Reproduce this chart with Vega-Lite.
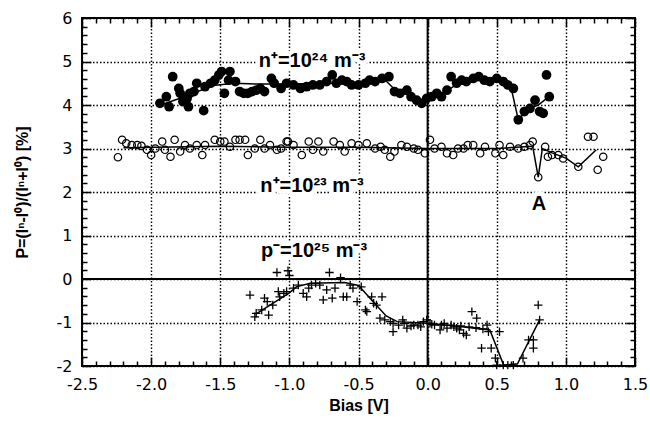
{
  "$schema": "https://vega.github.io/schema/vega-lite/v6.json",
  "width": 553,
  "height": 348,
  "autosize": {"type": "none"},
  "padding": {"left": 82, "top": 18, "right": 15, "bottom": 64},
  "background": "white",
  "config": {
    "view": {"stroke": "black", "strokeWidth": 2},
    "axis": {"tickColor": "black", "tickWidth": 1.5, "domain": false, "labelColor": "black", "titleColor": "black"}
  },
  "datasets": {
    "filled": [
      {"x":-1.936,"y":4.04},{"x":-1.89,"y":4.19},{"x":-1.87,"y":3.96},{"x":-1.844,"y":4.65},{"x":-1.80,"y":4.38},{"x":-1.79,"y":4.27},{"x":-1.77,"y":4.08},{"x":-1.74,"y":4.15},{"x":-1.73,"y":3.96},{"x":-1.72,"y":4.27},{"x":-1.69,"y":4.31},{"x":-1.67,"y":4.50},{"x":-1.62,"y":3.87},{"x":-1.61,"y":4.42},{"x":-1.57,"y":4.50},{"x":-1.54,"y":4.57},{"x":-1.51,"y":4.69},{"x":-1.49,"y":4.77},{"x":-1.47,"y":4.27},{"x":-1.44,"y":4.57},{"x":-1.43,"y":4.77},{"x":-1.39,"y":4.54},{"x":-1.36,"y":4.31},{"x":-1.33,"y":4.27},{"x":-1.30,"y":4.27},{"x":-1.27,"y":4.31},{"x":-1.24,"y":4.34},{"x":-1.21,"y":4.38},{"x":-1.18,"y":4.31},{"x":-1.13,"y":4.61},{"x":-1.11,"y":4.50},{"x":-1.06,"y":4.38},{"x":-1.02,"y":4.50},{"x":-0.97,"y":4.46},{"x":-0.92,"y":4.38},{"x":-0.875,"y":4.42},{"x":-0.83,"y":4.46},{"x":-0.78,"y":4.46},{"x":-0.73,"y":4.54},{"x":-0.69,"y":4.69},{"x":-0.66,"y":4.50},{"x":-0.62,"y":4.57},{"x":-0.585,"y":4.54},{"x":-0.55,"y":4.46},{"x":-0.50,"y":4.46},{"x":-0.45,"y":4.50},{"x":-0.42,"y":4.57},{"x":-0.38,"y":4.54},{"x":-0.33,"y":4.61},{"x":-0.28,"y":4.65},{"x":-0.24,"y":4.31},{"x":-0.20,"y":4.27},{"x":-0.15,"y":4.34},{"x":-0.12,"y":4.19},{"x":-0.08,"y":4.11},{"x":-0.043,"y":4.04},{"x":-0.007,"y":4.15},{"x":0.03,"y":4.19},{"x":0.066,"y":4.27},{"x":0.10,"y":4.19},{"x":0.14,"y":4.34},{"x":0.17,"y":4.65},{"x":0.21,"y":4.50},{"x":0.246,"y":4.57},{"x":0.28,"y":4.54},{"x":0.33,"y":4.61},{"x":0.37,"y":4.65},{"x":0.41,"y":4.57},{"x":0.45,"y":4.54},{"x":0.50,"y":4.61},{"x":0.547,"y":4.54},{"x":0.58,"y":4.46},{"x":0.62,"y":4.38},{"x":0.656,"y":3.66},{"x":0.70,"y":3.85},{"x":0.74,"y":3.92},{"x":0.777,"y":4.11},{"x":0.81,"y":3.85},{"x":0.836,"y":3.81},{"x":0.86,"y":4.69},{"x":0.88,"y":4.19}
    ],
    "open": [
      {"x":-2.24,"y":2.80},{"x":-2.21,"y":3.20},{"x":-2.18,"y":3.12},{"x":-2.14,"y":3.08},{"x":-2.10,"y":3.08},{"x":-2.07,"y":3.06},{"x":-2.03,"y":2.97},{"x":-2.00,"y":2.85},{"x":-1.97,"y":3.00},{"x":-1.92,"y":3.16},{"x":-1.90,"y":2.97},{"x":-1.86,"y":2.81},{"x":-1.83,"y":3.20},{"x":-1.79,"y":2.93},{"x":-1.755,"y":3.08},{"x":-1.72,"y":3.00},{"x":-1.67,"y":3.08},{"x":-1.63,"y":2.85},{"x":-1.61,"y":3.08},{"x":-1.54,"y":3.20},{"x":-1.50,"y":3.16},{"x":-1.47,"y":3.16},{"x":-1.43,"y":3.04},{"x":-1.39,"y":3.20},{"x":-1.36,"y":3.20},{"x":-1.32,"y":3.20},{"x":-1.30,"y":2.85},{"x":-1.25,"y":3.00},{"x":-1.21,"y":3.20},{"x":-1.18,"y":3.00},{"x":-1.14,"y":3.08},{"x":-1.09,"y":2.97},{"x":-1.06,"y":3.00},{"x":-1.02,"y":3.16},{"x":-1.01,"y":3.16},{"x":-0.97,"y":3.08},{"x":-0.91,"y":2.85},{"x":-0.86,"y":3.16},{"x":-0.83,"y":2.97},{"x":-0.79,"y":3.16},{"x":-0.755,"y":2.93},{"x":-0.68,"y":3.16},{"x":-0.635,"y":3.08},{"x":-0.60,"y":2.93},{"x":-0.55,"y":3.12},{"x":-0.50,"y":3.08},{"x":-0.44,"y":3.12},{"x":-0.38,"y":3.00},{"x":-0.34,"y":3.04},{"x":-0.31,"y":2.97},{"x":-0.27,"y":2.81},{"x":-0.24,"y":2.93},{"x":-0.19,"y":3.08},{"x":-0.15,"y":3.04},{"x":-0.10,"y":3.00},{"x":-0.07,"y":2.97},{"x":-0.02,"y":2.89},{"x":0.017,"y":3.20},{"x":0.05,"y":3.00},{"x":0.10,"y":3.04},{"x":0.14,"y":2.89},{"x":0.185,"y":2.85},{"x":0.22,"y":3.00},{"x":0.26,"y":3.00},{"x":0.29,"y":3.08},{"x":0.33,"y":3.08},{"x":0.38,"y":2.89},{"x":0.415,"y":3.04},{"x":0.49,"y":2.89},{"x":0.52,"y":3.08},{"x":0.547,"y":2.85},{"x":0.596,"y":3.04},{"x":0.656,"y":3.00},{"x":0.70,"y":3.04},{"x":0.74,"y":3.08},{"x":0.76,"y":3.16},{"x":0.80,"y":2.34},{"x":0.85,"y":3.04},{"x":0.87,"y":2.81},{"x":0.90,"y":2.85},{"x":0.945,"y":2.85},{"x":0.98,"y":2.77},{"x":1.09,"y":2.58},{"x":1.16,"y":3.27},{"x":1.20,"y":3.27},{"x":1.23,"y":2.51},{"x":1.27,"y":2.81}
    ],
    "cross": [
      {"x":-1.285,"y":-0.37},{"x":-1.25,"y":-0.87},{"x":-1.24,"y":-0.79},{"x":-1.20,"y":-0.71},{"x":-1.18,"y":-0.44},{"x":-1.16,"y":-0.52},{"x":-1.15,"y":-0.83},{"x":-1.12,"y":-0.60},{"x":-1.09,"y":0.15},{"x":-1.08,"y":-0.29},{"x":-1.07,"y":-0.41},{"x":-1.04,"y":-0.33},{"x":-1.02,"y":-0.29},{"x":-1.01,"y":0.19},{"x":-1.00,"y":0.08},{"x":-0.97,"y":-0.21},{"x":-0.935,"y":-0.14},{"x":-0.90,"y":-0.33},{"x":-0.875,"y":-0.41},{"x":-0.86,"y":-0.21},{"x":-0.84,"y":-0.14},{"x":-0.81,"y":-0.10},{"x":-0.78,"y":-0.14},{"x":-0.755,"y":-0.48},{"x":-0.73,"y":-0.25},{"x":-0.71,"y":0.15},{"x":-0.69,"y":-0.44},{"x":-0.67,"y":-0.21},{"x":-0.63,"y":0.03},{"x":-0.61,"y":-0.41},{"x":-0.585,"y":-0.41},{"x":-0.56,"y":-0.14},{"x":-0.54,"y":-0.21},{"x":-0.51,"y":-0.52},{"x":-0.48,"y":-0.18},{"x":-0.45,"y":-0.71},{"x":-0.44,"y":-0.75},{"x":-0.405,"y":-0.41},{"x":-0.39,"y":-0.56},{"x":-0.37,"y":-0.60},{"x":-0.345,"y":-0.90},{"x":-0.33,"y":-0.41},{"x":-0.31,"y":-0.94},{"x":-0.27,"y":-0.98},{"x":-0.25,"y":-1.21},{"x":-0.25,"y":-1.02},{"x":-0.21,"y":-1.06},{"x":-0.18,"y":-0.94},{"x":-0.17,"y":-1.02},{"x":-0.15,"y":-1.13},{"x":-0.12,"y":-1.08},{"x":-0.10,"y":-1.06},{"x":-0.07,"y":-1.06},{"x":-0.05,"y":-1.10},{"x":-0.03,"y":-0.98},{"x":-0.007,"y":-0.94},{"x":0.017,"y":-1.02},{"x":0.03,"y":-1.04},{"x":0.05,"y":-1.06},{"x":0.09,"y":-1.17},{"x":0.10,"y":-1.06},{"x":0.12,"y":-1.02},{"x":0.14,"y":-1.13},{"x":0.17,"y":-1.06},{"x":0.19,"y":-1.10},{"x":0.21,"y":-1.13},{"x":0.23,"y":-1.17},{"x":0.24,"y":-1.08},{"x":0.26,"y":-1.25},{"x":0.28,"y":-1.29},{"x":0.30,"y":-1.10},{"x":0.32,"y":-0.75},{"x":0.35,"y":-1.12},{"x":0.355,"y":-0.90},{"x":0.39,"y":-1.59},{"x":0.40,"y":-1.15},{"x":0.43,"y":-1.06},{"x":0.44,"y":-1.21},{"x":0.46,"y":-1.59},{"x":0.49,"y":-1.82},{"x":0.50,"y":-1.98},{"x":0.52,"y":-1.21},{"x":0.547,"y":-1.98},{"x":0.58,"y":-1.98},{"x":0.62,"y":-1.98},{"x":0.69,"y":-1.82},{"x":0.73,"y":-1.40},{"x":0.765,"y":-1.59},{"x":0.765,"y":-1.40},{"x":0.80,"y":-0.60},{"x":0.81,"y":-0.94}
    ],
    "fits": [
      {"s":"f","x":-1.93,"y":4.0},{"s":"f","x":-1.75,"y":4.2},{"s":"f","x":-1.55,"y":4.45},{"s":"f","x":-1.4,"y":4.5},{"s":"f","x":-1.2,"y":4.48},{"s":"f","x":-1.0,"y":4.48},{"s":"f","x":-0.75,"y":4.5},{"s":"f","x":-0.5,"y":4.5},{"s":"f","x":-0.3,"y":4.55},{"s":"f","x":-0.22,"y":4.3},{"s":"f","x":-0.1,"y":4.2},{"s":"f","x":-0.02,"y":4.08},{"s":"f","x":0.1,"y":4.25},{"s":"f","x":0.2,"y":4.45},{"s":"f","x":0.35,"y":4.6},{"s":"f","x":0.5,"y":4.55},{"s":"f","x":0.6,"y":4.45},{"s":"f","x":0.656,"y":3.66},{"s":"f","x":0.72,"y":3.9},{"s":"f","x":0.8,"y":4.0},{"s":"f","x":0.88,"y":4.2},
      {"s":"o","x":-2.2,"y":3.02},{"s":"o","x":-1.5,"y":3.05},{"s":"o","x":-1.0,"y":3.03},{"s":"o","x":-0.5,"y":3.03},{"s":"o","x":0.0,"y":3.0},{"s":"o","x":0.5,"y":3.0},{"s":"o","x":0.76,"y":3.05},{"s":"o","x":0.80,"y":2.34},{"s":"o","x":0.83,"y":3.0},{"s":"o","x":0.9,"y":2.9},{"s":"o","x":1.0,"y":2.78},{"s":"o","x":1.09,"y":2.58},{"s":"o","x":1.22,"y":2.97},
      {"s":"c","x":-1.24,"y":-0.8},{"s":"c","x":-1.1,"y":-0.52},{"s":"c","x":-1.0,"y":-0.32},{"s":"c","x":-0.95,"y":-0.18},{"s":"c","x":-0.85,"y":-0.1},{"s":"c","x":-0.6,"y":-0.08},{"s":"c","x":-0.5,"y":-0.15},{"s":"c","x":-0.4,"y":-0.5},{"s":"c","x":-0.3,"y":-0.85},{"s":"c","x":-0.22,"y":-0.98},{"s":"c","x":0.0,"y":-1.02},{"s":"c","x":0.2,"y":-1.08},{"s":"c","x":0.45,"y":-1.17},{"s":"c","x":0.55,"y":-1.98},{"s":"c","x":0.65,"y":-1.95},{"s":"c","x":0.81,"y":-0.94}
    ],
    "zero": [{"v": 0}],
    "labels": [
      {"x":-0.836,"y":4.88,"t":"n⁺=10²⁴ m⁻³"},
      {"x":-0.836,"y":2.0,"t":"n⁺=10²³ m⁻³"},
      {"x":-0.822,"y":0.5,"t":"p⁻=10²⁵ m⁻³"},
      {"x":0.806,"y":1.59,"t":"A"}
    ]
  },
  "layer": [
    {
      "data": {"name": "labels"},
      "mark": {"type": "text", "font": "Liberation Sans", "fontWeight": "bold", "fontSize": 20, "color": "white", "stroke": "white", "strokeWidth": 9, "strokeJoin": "round", "align": "center", "baseline": "alphabetic"},
      "encoding": {
        "x": {"field": "x", "type": "quantitative", "scale": {"domain": [-2.5, 1.5], "nice": false}, "axis": null},
        "y": {"field": "y", "type": "quantitative", "scale": {"domain": [-2, 6], "nice": false}, "axis": null},
        "text": {"field": "t"}
      }
    },
    {
      "data": {"name": "zero"},
      "mark": {"type": "rule", "color": "black", "strokeWidth": 2},
      "encoding": {"x": {"field": "v", "type": "quantitative", "scale": {"domain": [-2.5, 1.5], "nice": false}, "axis": null}}
    },
    {
      "data": {"name": "zero"},
      "mark": {"type": "rule", "color": "black", "strokeWidth": 2},
      "encoding": {"y": {"field": "v", "type": "quantitative", "scale": {"domain": [-2, 6], "nice": false}, "axis": null}}
    },
    {
      "data": {"name": "fits"},
      "mark": {"type": "line", "color": "black", "strokeWidth": 1.5},
      "encoding": {
        "detail": {"field": "s"},
        "x": {"field": "x", "type": "quantitative", "scale": {"domain": [-2.5, 1.5], "nice": false},
          "axis": {"orient": "top", "labels": false, "grid": false, "title": null, "tickSize": -5,
            "values": [-2.4,-2.3,-2.2,-2.1,-1.9,-1.8,-1.7,-1.6,-1.4,-1.3,-1.2,-1.1,-0.9,-0.8,-0.7,-0.6,-0.4,-0.3,-0.2,-0.1,0.1,0.2,0.3,0.4,0.6,0.7,0.8,0.9,1.1,1.2,1.3,1.4]}},
        "y": {"field": "y", "type": "quantitative", "scale": {"domain": [-2, 6], "nice": false},
          "axis": {"orient": "right", "labels": false, "grid": false, "title": null, "tickSize": -5,
            "values": [-1.8,-1.6,-1.4,-1.2,-0.8,-0.6,-0.4,-0.2,0.2,0.4,0.6,0.8,1.2,1.4,1.6,1.8,2.2,2.4,2.6,2.8,3.2,3.4,3.6,3.8,4.2,4.4,4.6,4.8,5.2,5.4,5.6,5.8]}}
      }
    },
    {
      "data": {"name": "open"},
      "mark": {"type": "point", "shape": "circle", "filled": false, "stroke": "black", "strokeWidth": 1.2, "size": 55, "opacity": 1},
      "encoding": {
        "x": {"field": "x", "type": "quantitative", "scale": {"domain": [-2.5, 1.5], "nice": false},
          "axis": {"orient": "bottom", "title": "Bias [V]", "titleFont": "Liberation Sans", "titleFontWeight": "bold", "titleFontSize": 16, "titlePadding": 5,
            "labelFont": "DejaVu Sans", "labelFontSize": 16, "labelPadding": 19, "labelFlush": false, "labelOverlap": false,
            "values": [-2.5,-2.0,-1.5,-1.0,-0.5,0,0.5,1.0,1.5], "format": ".1f",
            "labelExpr": "replace(datum.label, '−', '-')", "tickSize": -9,
            "grid": true, "gridColor": "black", "gridDash": [1.5, 2], "gridWidth": 1.4}},
        "y": {"field": "y", "type": "quantitative", "scale": {"domain": [-2, 6], "nice": false},
          "axis": {"orient": "left", "title": "P=(Iⁿ-I⁰)/(Iⁿ+I⁰) [%]", "titleFont": "Liberation Sans", "titleFontWeight": "bold", "titleFontSize": 16, "titlePadding": 26,
            "labelFont": "DejaVu Sans", "labelFontSize": 16, "labelPadding": 19, "labelFlush": false, "labelOverlap": false,
            "values": [-2,-1,0,1,2,3,4,5,6], "format": "d",
            "labelExpr": "replace(datum.label, '−', '-')", "tickSize": -9,
            "grid": true, "gridColor": "black", "gridDash": [1.5, 2], "gridWidth": 1.4}}
      }
    },
    {
      "data": {"name": "filled"},
      "mark": {"type": "point", "shape": "circle", "filled": true, "color": "black", "size": 95, "opacity": 1},
      "encoding": {
        "x": {"field": "x", "type": "quantitative", "scale": {"domain": [-2.5, 1.5], "nice": false},
          "axis": {"orient": "bottom", "labels": false, "grid": false, "title": null, "tickSize": -5,
            "values": [-2.4,-2.3,-2.2,-2.1,-1.9,-1.8,-1.7,-1.6,-1.4,-1.3,-1.2,-1.1,-0.9,-0.8,-0.7,-0.6,-0.4,-0.3,-0.2,-0.1,0.1,0.2,0.3,0.4,0.6,0.7,0.8,0.9,1.1,1.2,1.3,1.4]}},
        "y": {"field": "y", "type": "quantitative", "scale": {"domain": [-2, 6], "nice": false},
          "axis": {"orient": "left", "labels": false, "grid": false, "title": null, "tickSize": -5,
            "values": [-1.8,-1.6,-1.4,-1.2,-0.8,-0.6,-0.4,-0.2,0.2,0.4,0.6,0.8,1.2,1.4,1.6,1.8,2.2,2.4,2.6,2.8,3.2,3.4,3.6,3.8,4.2,4.4,4.6,4.8,5.2,5.4,5.6,5.8]}}
      }
    },
    {
      "data": {"name": "cross"},
      "mark": {"type": "point", "shape": "M-1,0L1,0M0,-1L0,1", "filled": false, "stroke": "black", "strokeWidth": 1.3, "size": 72, "opacity": 1},
      "encoding": {
        "x": {"field": "x", "type": "quantitative", "scale": {"domain": [-2.5, 1.5], "nice": false},
          "axis": {"orient": "top", "labels": false, "grid": false, "title": null, "tickSize": -9,
            "values": [-2.5,-2.0,-1.5,-1.0,-0.5,0,0.5,1.0,1.5]}},
        "y": {"field": "y", "type": "quantitative", "scale": {"domain": [-2, 6], "nice": false},
          "axis": {"orient": "right", "labels": false, "grid": false, "title": null, "tickSize": -9,
            "values": [-2,-1,0,1,2,3,4,5,6]}}
      }
    },
    {
      "data": {"name": "labels"},
      "mark": {"type": "text", "font": "Liberation Sans", "fontWeight": "bold", "fontSize": 20, "color": "black", "align": "center", "baseline": "alphabetic"},
      "encoding": {
        "x": {"field": "x", "type": "quantitative", "scale": {"domain": [-2.5, 1.5], "nice": false}, "axis": null},
        "y": {"field": "y", "type": "quantitative", "scale": {"domain": [-2, 6], "nice": false}, "axis": null},
        "text": {"field": "t"}
      }
    }
  ],
  "resolve": {"axis": {"x": "independent", "y": "independent"}}
}
